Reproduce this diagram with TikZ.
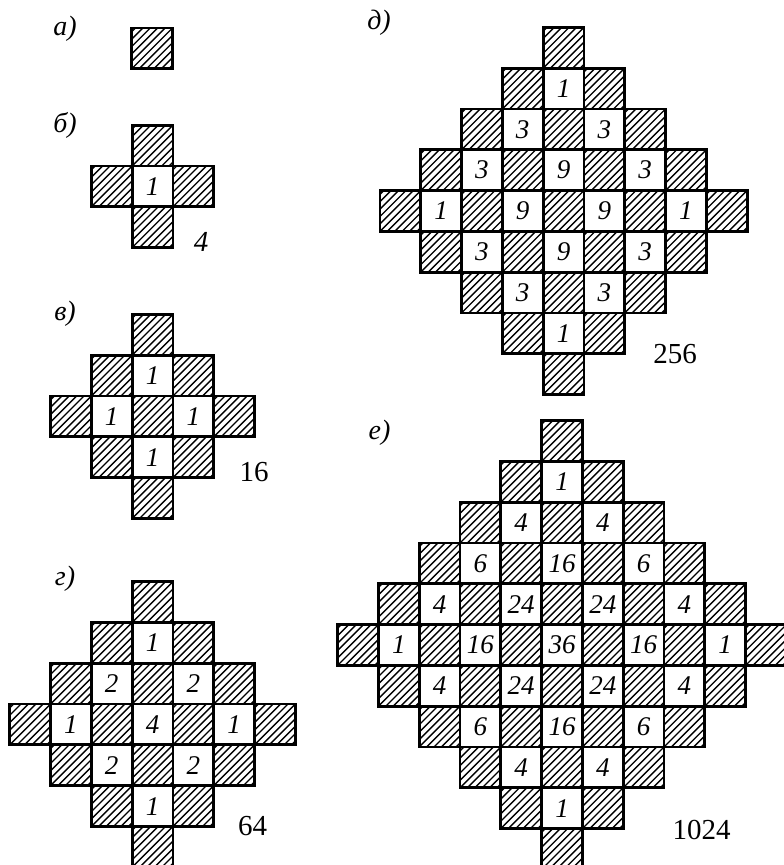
\documentclass[tikz,border=0pt]{standalone}
\usepackage{fontspec}
\setmainfont{Liberation Serif}
\usetikzlibrary{positioning}
\newcommand{\cellsz}{40.8}

% one diamond of cells: name, centre x, centre y, radius
\newcommand{\cellpanel}[4]{%
  \foreach \i in {-#4,...,#4}{
    \foreach \j in {-#4,...,#4}{
      \pgfmathtruncatemacro{\r}{abs(\i)+abs(\j)}
      \pgfmathsetmacro{\px}{#2+\i*\cellsz}
      \pgfmathsetmacro{\py}{#3+\j*\cellsz}
      \ifnum\r>#4\relax\else
        \pgfmathtruncatemacro{\w}{mod(\r+#4,2)}
        \ifnum\w=1
          \pgfmathtruncatemacro{\ka}{(#4-1+\i+\j)/2}
          \pgfmathtruncatemacro{\kb}{(#4-1+\i-\j)/2}
          \pgfmathtruncatemacro{\val}{comb(#4-1,\ka)*comb(#4-1,\kb)}
          \node[blank] (#1-\i-\j) at (\px,\py) {\val};
        \else
          \node[hatched] (#1-\i-\j) at (\px,\py) {};
        \fi
      \fi
    }
  }
}

\begin{document}
\begin{tikzpicture}[x=1pt, y=1pt,
    declare function={comb(\n,\m)=factorial(\n)/(factorial(\m)*factorial(\n-\m));},
    hatched/.style={draw, line width=2.8pt, inner sep=0pt, minimum size=\cellsz pt,
      path picture={
        \foreach \h in {-6,...,6}
          \draw[line width=1.35pt] ([xshift=\h*7.4pt]path picture bounding box.south west) -- ++(45:70pt);
      }},
    blank/.style={draw, fill=white, line width=2.8pt, inner sep=0pt, minimum size=\cellsz pt,
      font=\fontsize{27}{27}\selectfont\itshape},
    tag/.style={font=\fontsize{28}{28}\selectfont\itshape},
    total/.style={font=\fontsize{29}{29}\selectfont}]

    \useasboundingbox (0,0) rectangle (784,865);

    % a
    \node[hatched] (a-0-0) at (152,816.5) {};
    \node[tag] (tag-a) at (65,836.5) {а)};

    % b
    \cellpanel{b}{152.5}{678.5}{1}
    \node[tag] (tag-b) at (65,740) {б)};
    \node[total, font=\fontsize{29}{29}\selectfont\itshape] (tot-b) at (201,623) {4};

    % v
    \cellpanel{v}{152.5}{448.5}{2}
    \node[tag] (tag-v) at (65,551) {в)};
    \node[total] (tot-v) at (254,392.5) {16};

    % g
    \cellpanel{g}{152.5}{140.5}{3}
    \node[tag] (tag-g) at (65,286) {г)};
    \node[total] (tot-g) at (252.5,39) {64};

    % d
    \cellpanel{d}{563.5}{654}{4}
    \node[tag] (tag-d) at (379,842) {д)};
    \node[total] (tot-d) at (675,511) {256};

    % e
    \cellpanel{e}{562}{220}{5}
    \node[tag] (tag-e) at (379.5,432) {е)};
    \node[total] (tot-e) at (701.5,35) {1024};
\end{tikzpicture}
\end{document}
